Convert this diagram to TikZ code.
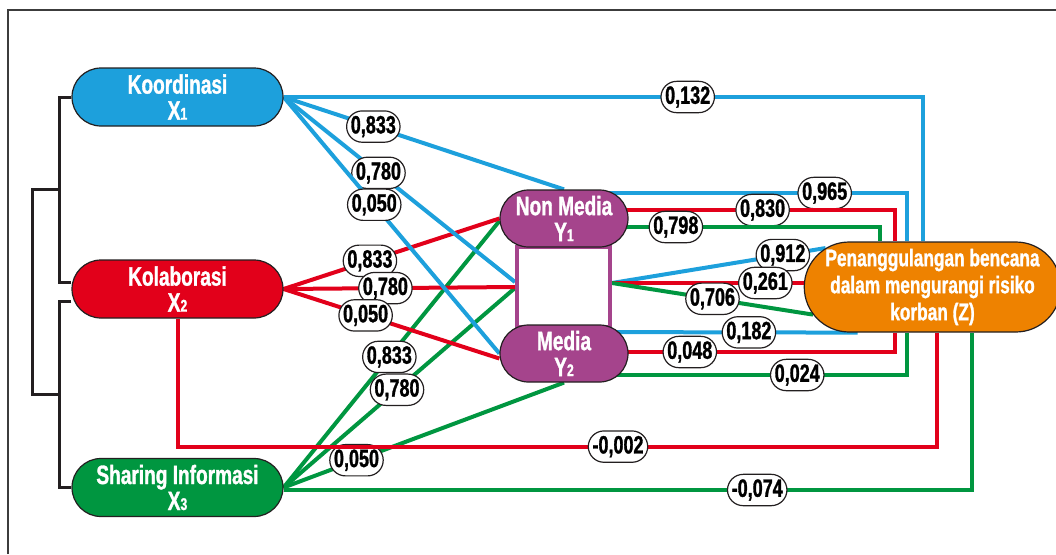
\documentclass[tikz,border=0pt]{standalone}
\usepackage{fontspec}
\usetikzlibrary{shapes.misc,backgrounds}
\newfontfamily\condfont[FakeStretch=0.72,FakeBold=1.2]{Liberation Sans}
\newcommand\idx[1]{{\fontsize{17}{17}\selectfont #1}}

\definecolor{kblue}{RGB}{29,160,220}
\definecolor{kred}{RGB}{226,0,26}
\definecolor{kgreen}{RGB}{0,150,64}
\definecolor{kpurple}{RGB}{165,68,140}
\definecolor{korange}{RGB}{238,130,0}
\definecolor{edge}{RGB}{35,31,32}
\definecolor{frame}{RGB}{60,60,60}

\begin{document}
\begin{tikzpicture}[
    x=1pt, y=-1pt,
    var/.style={rounded rectangle, draw=edge, line width=1.2pt, text=white, align=center,
        inner sep=0pt, minimum width=211pt, minimum height=58pt,
        font=\condfont\bfseries\fontsize{26.5}{26}\selectfont},
    med/.style={var, fill=kpurple, minimum width=128pt, minimum height=57pt},
    coef/.style={rounded rectangle, draw=edge, fill=white, text=black, line width=1.2pt,
        inner xsep=0pt, inner ysep=5pt, font=\condfont\bfseries\fontsize{25}{25}\selectfont},
    lnk/.style={line width=4pt},
    brk/.style={line width=3pt, draw=edge}
]
\useasboundingbox (0,0) rectangle (1056,554);
\draw[line width=1.5pt, draw=frame] (8,554) -- (8,10) -- (1056,10);

%% variables
\node[var, fill=kblue] (x1) at (177.5,97) {Koordinasi\\X\idx{1}};
\node[var, fill=kred] (x2) at (177.5,289) {Kolaborasi\\X\idx{2}};
\node[var, fill=kgreen] (x3) at (177.5,487.5) {Sharing Informasi\\X\idx{3}};
% the two mediators sit on a white box
\node[draw=kpurple, line width=4pt, fill=white, inner sep=0pt,
      minimum width=93pt, minimum height=80pt] (mid) at (563.5,287) {};
\node[med] (y1) at (564,218.5) {Non Media\\Y\idx{1}};
\node[med] (y2) at (564,353.5) {Media\\Y\idx{2}};
\node[var, fill=korange, minimum width=239pt, minimum height=90pt,
      font=\condfont\bfseries\fontsize{24}{27}\selectfont] (z) at (932.5,287)
      {Penanggulangan bencana\\dalam mengurangi risiko\\korban (Z)};

\begin{pgfonlayer}{background}
% brackets on the left
\draw[brk] (x1.west) -- ++(-12,0) |- coordinate[pos=0.25] (g1) ([yshift=7pt]x2.west);
\draw[brk] ([yshift=-12pt]x2.west) -- ++(-12,0) |- coordinate[pos=0.25] (g2) (x3.west);
\draw[brk] (g1) -- ++(-27,0) |- (g2);

% --- X3 ---
\draw[lnk, kgreen] (x3.east) -- node[coef, pos=0.49] {0,833} ([yshift=-2.5pt]y1.west);
\draw[lnk, kgreen] (x3.east) -- node[coef, pos=0.49] {0,780} ([yshift=-1pt]mid.west);
\draw[lnk, kgreen] (x3.east) -- node[coef, pos=0.26] {0,050} (y2.south);
\draw[lnk, kgreen] ([yshift=-2.5pt]x3.east) -| node[coef, pos=0.344] {-0,074} ([xshift=39.5pt]z.south);

% --- X2 ---
\draw[lnk, kred] (x2.east) -- node[coef, pos=0.40] {0,833} (y1.west);
\draw[lnk, kred] (x2.east) -- node[coef, pos=0.44] {0,780} (mid.west);
\draw[lnk, kred] (x2.east) -- node[coef, pos=0.38] {0,050} ([yshift=-5pt]y2.west);
\draw[lnk, kred] (x2.south) -- ++(0,128) -| node[coef, pos=0.29] {-0,002} ([xshift=4.5pt]z.south);

% --- X1 ---
\draw[lnk, kblue] (x1.east) -| node[coef, pos=0.316] {0,132} ([xshift=-9.5pt]z.north);
\draw[lnk, kblue] (x1.east) -- node[coef, pos=0.32] {0,833} (y1.north);
\draw[lnk, kblue] (x1.east) -- node[coef, pos=0.41] {0,780} ([yshift=5pt]mid.west);
\draw[lnk, kblue] (x1.east) -- node[coef, pos=0.42] {0,050} (y2.west);

% --- Y1 to Z ---
\draw[lnk, kblue] ([yshift=25.5pt]y1.center) -| node[coef, pos=0.38] {0,965} ([xshift=-25.5pt]z.north);
\draw[lnk, kred] ([yshift=8.5pt]y1.center) -| node[coef, pos=0.30] {0,830} ([xshift=-37.5pt]z.north);
\draw[lnk, kgreen] ([yshift=-8.5pt]y1.center) -| node[coef, pos=0.177] {0,798} ([xshift=-52.5pt]z.north);

% --- box to Z ---
\coordinate (mr) at ([yshift=4pt]mid.east);
\draw[lnk, kblue] (mr) -- node[coef, pos=0.8] {0,912} (z.160);
\draw[lnk, kred] (mr) -- node[coef, pos=0.8] {0,261} (mr -| z.west);
\draw[lnk, kgreen] (mr) -- node[coef, pos=0.5] {0,706} (z.193);

% --- Y2 to Z ---
\draw[lnk, kblue] ([yshift=21.5pt]y2.center) -- node[coef, pos=0.63] {0,182} ([xshift=-75pt]z.south);
\draw[lnk, kred] ([yshift=1.5pt]y2.center) -| node[coef, pos=0.19] {0,048} ([xshift=-37.5pt]z.south);
\draw[lnk, kgreen] ([yshift=-21.5pt]y2.center) -| node[coef, pos=0.34] {0,024} ([xshift=-25.5pt]z.south);
\end{pgfonlayer}
\end{tikzpicture}
\end{document}
